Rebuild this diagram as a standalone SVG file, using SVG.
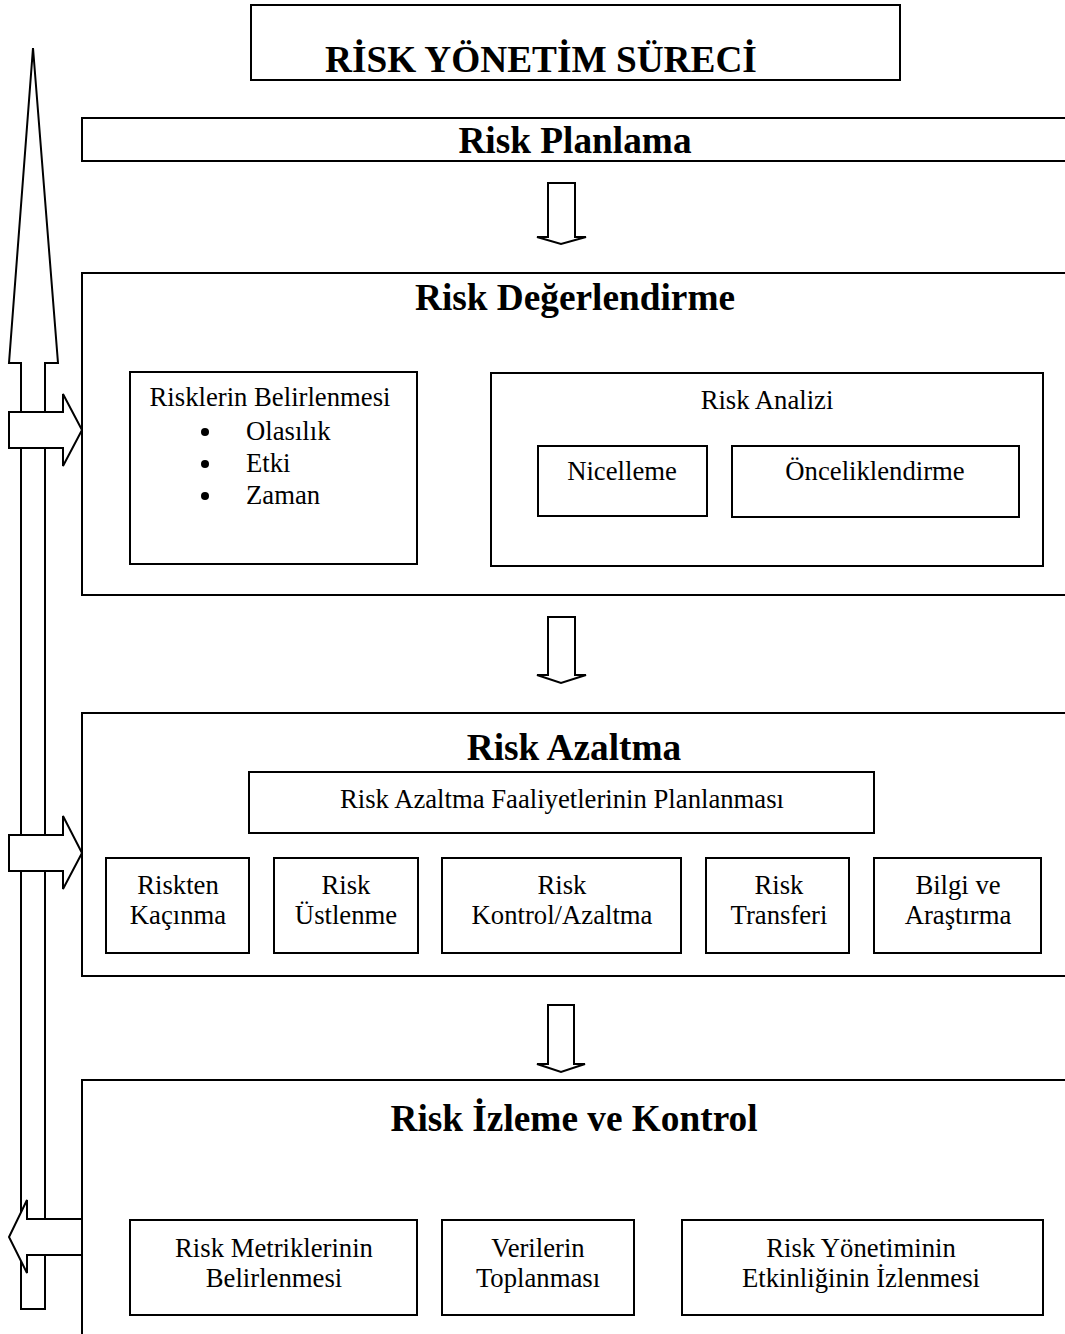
<svg xmlns="http://www.w3.org/2000/svg" width="1065" height="1334" viewBox="0 0 1065 1334">
<style>
.b{fill:#fff;stroke:#000;stroke-width:2}
.a{fill:#fff;stroke:#000;stroke-width:2;stroke-linejoin:miter}
.h{font-family:"Liberation Serif","Times New Roman",serif;font-weight:bold;font-size:37.3px;text-anchor:middle;fill:#000}
.t{font-family:"Liberation Serif","Times New Roman",serif;font-size:26.7px;text-anchor:middle;fill:#000}
.l{font-family:"Liberation Serif","Times New Roman",serif;font-size:26.7px;fill:#000}
</style>
<rect width="1065" height="1334" fill="#fff"/>
<g id="connectors">
<path class="a" d="M33,48 L58,363 L45,363 L45,1309 L21,1309 L21,363 L9,363 Z"/>
<path class="a" d="M9,412 L63,412 L63,394 L82,430 L63,466 L63,448 L9,448 Z"/>
<path class="a" d="M9,835 L63,835 L63,816 L82,853 L63,889 L63,871 L9,871 Z"/>
<path class="a" d="M82,1219 L27,1219 L27,1200 L9,1237 L27,1273 L27,1255 L82,1255 Z"/>
<path class="a" d="M548,183 L575,183 L575,237 L586,237 L561,244 L537,237 L548,237 Z"/>
<path class="a" d="M548,617 L575,617 L575,675 L586,675 L561,683 L537,675 L548,675 Z"/>
<path class="a" d="M548,1005 L574,1005 L574,1064 L585,1064 L561,1072 L537,1064 L548,1064 Z"/>
</g>
<g id="title">
<rect class="b" x="251" y="5" width="649" height="75"/>
<text class="h" x="541" y="72">RİSK YÖNETİM SÜRECİ</text>
</g>
<g id="planlama">
<rect class="b" x="82" y="118" width="990" height="43"/>
<text class="h" x="575" y="153">Risk Planlama</text>
</g>
<g id="degerlendirme">
<rect class="b" x="82" y="273" width="990" height="322"/>
<text class="h" x="575" y="310">Risk Değerlendirme</text>
</g>
<g id="belirlenmesi">
<rect class="b" x="130" y="372" width="287" height="192"/>
<text class="t" x="270" y="406">Risklerin Belirlenmesi</text>
<circle cx="205" cy="432" r="4"/>
<circle cx="205" cy="464" r="4"/>
<circle cx="205" cy="496" r="4"/>
<text class="l" x="246" y="440">Olasılık</text>
<text class="l" x="246" y="472">Etki</text>
<text class="l" x="246" y="504">Zaman</text>
</g>
<g id="analizi">
<rect class="b" x="491" y="373" width="552" height="193"/>
<text class="t" x="767" y="409">Risk Analizi</text>
</g>
<g id="nicelleme">
<rect class="b" x="538" y="446" width="169" height="70"/>
<text class="t" x="622" y="480">Nicelleme</text>
</g>
<g id="onceliklendirme">
<rect class="b" x="732" y="446" width="287" height="71"/>
<text class="t" x="875" y="480">Önceliklendirme</text>
</g>
<g id="azaltma">
<rect class="b" x="82" y="713" width="990" height="263"/>
<text class="h" x="574" y="760">Risk Azaltma</text>
</g>
<g id="faaliyet">
<rect class="b" x="249" y="772" width="625" height="61"/>
<text class="t" x="562" y="808">Risk Azaltma Faaliyetlerinin Planlanması</text>
</g>
<g id="kacinma">
<rect class="b" x="106" y="858" width="143" height="95"/>
<text class="t" x="178" y="894">Riskten</text>
<text class="t" x="178" y="924">Kaçınma</text>
</g>
<g id="ustlenme">
<rect class="b" x="274" y="858" width="144" height="95"/>
<text class="t" x="346" y="894">Risk</text>
<text class="t" x="346" y="924">Üstlenme</text>
</g>
<g id="kontrol">
<rect class="b" x="442" y="858" width="239" height="95"/>
<text class="t" x="562" y="894">Risk</text>
<text class="t" x="562" y="924">Kontrol/Azaltma</text>
</g>
<g id="transfer">
<rect class="b" x="706" y="858" width="143" height="95"/>
<text class="t" x="779" y="894">Risk</text>
<text class="t" x="779" y="924">Transferi</text>
</g>
<g id="bilgi">
<rect class="b" x="874" y="858" width="167" height="95"/>
<text class="t" x="958" y="894">Bilgi ve</text>
<text class="t" x="958" y="924">Araştırma</text>
</g>
<g id="izleme">
<rect class="b" x="82" y="1080" width="990" height="267"/>
<text class="h" x="574" y="1131">Risk İzleme ve Kontrol</text>
</g>
<g id="metrik">
<rect class="b" x="130" y="1220" width="287" height="95"/>
<text class="t" x="274" y="1257">Risk Metriklerinin</text>
<text class="t" x="274" y="1287">Belirlenmesi</text>
</g>
<g id="veriler">
<rect class="b" x="442" y="1220" width="192" height="95"/>
<text class="t" x="538" y="1257">Verilerin</text>
<text class="t" x="538" y="1287">Toplanması</text>
</g>
<g id="etkinlik">
<rect class="b" x="682" y="1220" width="361" height="95"/>
<text class="t" x="861" y="1257">Risk Yönetiminin</text>
<text class="t" x="861" y="1287">Etkinliğinin İzlenmesi</text>
</g>
</svg>
